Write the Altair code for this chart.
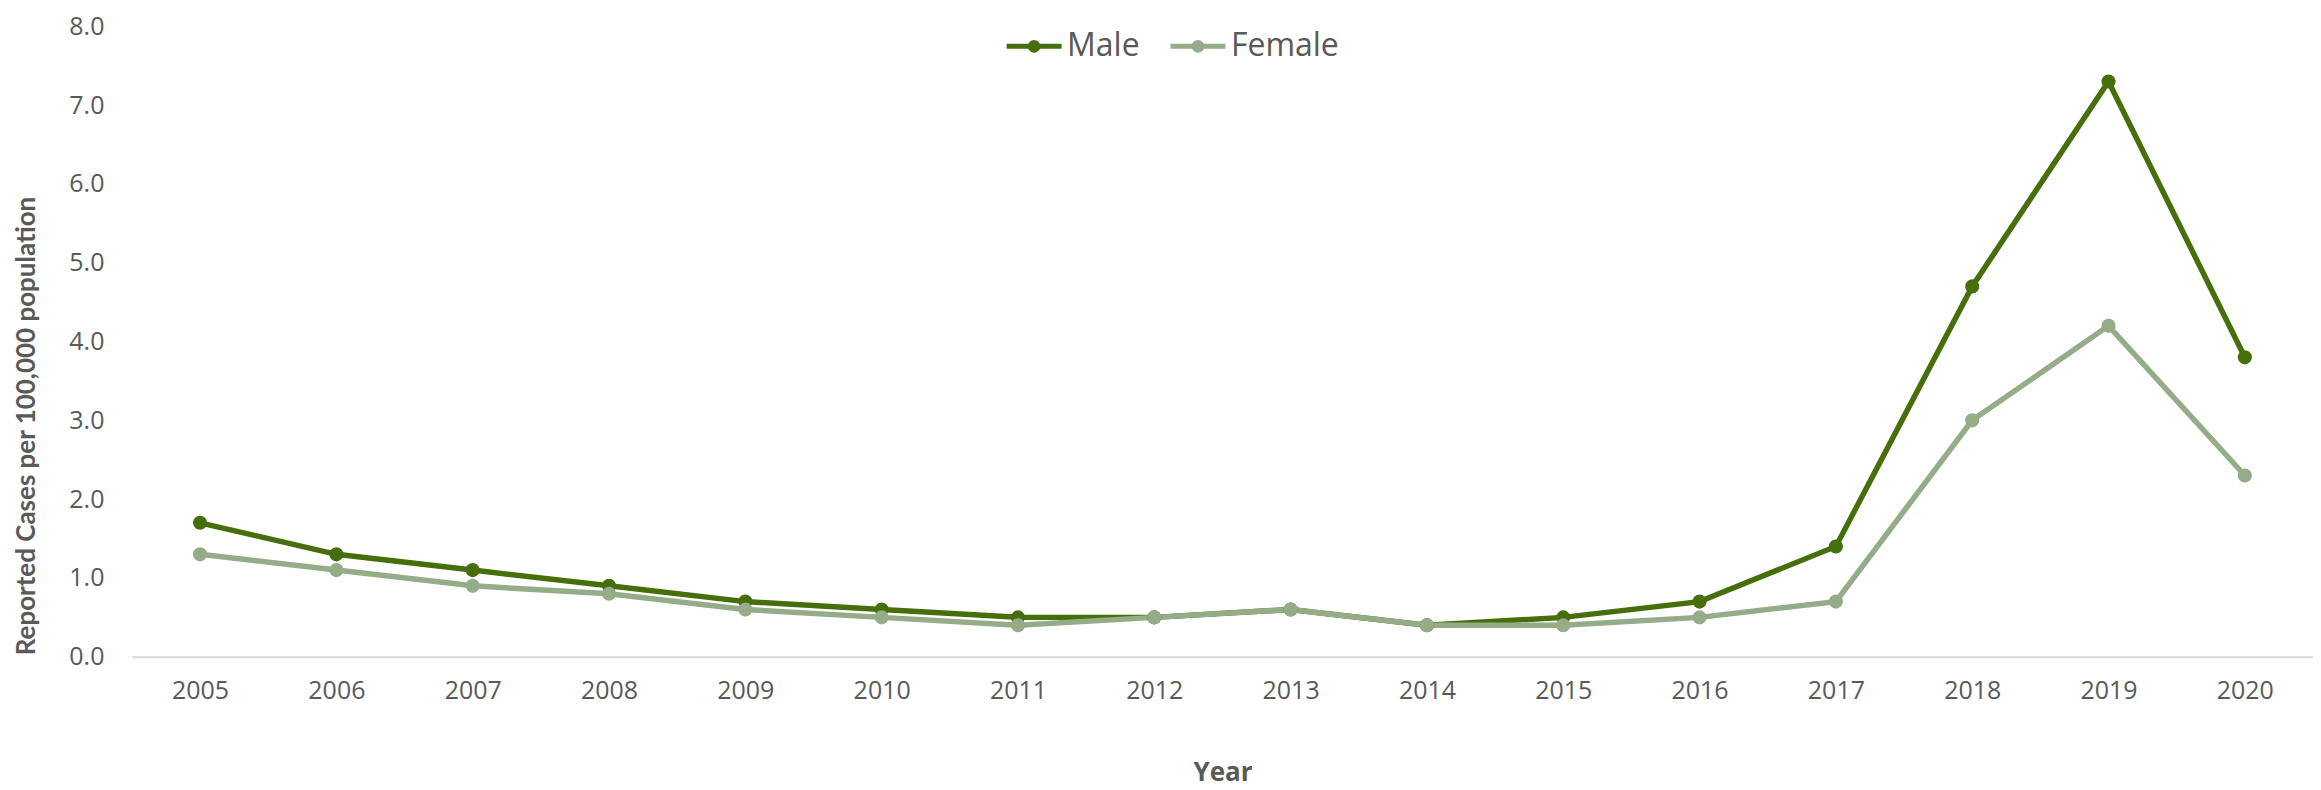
import altair as alt
import pandas as pd

years = [str(y) for y in range(2005, 2021)]
male = [1.7, 1.3, 1.1, 0.9, 0.7, 0.6, 0.5, 0.5, 0.6, 0.4, 0.5, 0.7, 1.4, 4.7, 7.3, 3.8]
female = [1.3, 1.1, 0.9, 0.8, 0.6, 0.5, 0.4, 0.5, 0.6, 0.4, 0.4, 0.5, 0.7, 3.0, 4.2, 2.3]
series = ["Male", "Female"]
colors = ["#466F0C", "#94AC87"]
y_ticks = [0, 1, 2, 3, 4, 5, 6, 7, 8]

rows = []
for s, vals in zip(series, [male, female]):
    for y, v in zip(years, vals):
        rows.append({"Year": y, "Sex": s, "Value": v})
df = pd.DataFrame(rows)

FONT = "Open Sans"
GRAY = "#595959"

legend_symbol = "M-2.5,0L2.5,0M-0.35,0A0.35,0.35,0,1,0,0.35,0A0.35,0.35,0,1,0,-0.35,0"

color = alt.Color(
    "Sex:N",
    scale=alt.Scale(domain=series, range=colors),
    sort=series,
    legend=alt.Legend(
        title=None,
        orient="none",
        direction="horizontal",
        legendX=887,
        legendY=4,
        symbolType=legend_symbol,
        symbolSize=484,
        symbolStrokeWidth=5,
        labelFont=FONT,
        labelFontSize=32,
        labelColor=GRAY,
        labelOffset=17,
        columnPadding=20,
    ),
)

x = alt.X(
    "Year:O",
    sort=years,
    scale=alt.Scale(paddingOuter=0.5, paddingInner=0),
    axis=alt.Axis(
        title="Year",
        labelAngle=0,
        labelFont=FONT,
        labelFontSize=25,
        labelColor=GRAY,
        labelPadding=22,
        ticks=False,
        tickSize=0,
        domainColor="#D9D9D9",
        domainWidth=2,
        grid=False,
        titleFont=FONT,
        titleFontSize=26,
        titleFontWeight="bold",
        titleColor=GRAY,
        titleY=116,
        titleBaseline="middle",
    ),
)

y = alt.Y(
    "Value:Q",
    scale=alt.Scale(domain=[0, 8], nice=False),
    axis=alt.Axis(
        title="Reported Cases per 100,000 population",
        values=y_ticks,
        format=".1f",
        labelFont=FONT,
        labelFontSize=25,
        labelColor=GRAY,
        labelPadding=28,
        ticks=False,
        tickSize=0,
        domain=False,
        grid=False,
        titleFont="Lato",
        titleFontSize=26,
        titleFontWeight="bold",
        titleColor=GRAY,
        titleAngle=270,
        titleAlign="left",
        titleBaseline="middle",
        titleX=-105,
        titleY=629,
    ),
)

chart = (
    alt.Chart(df)
    .mark_line(
        strokeWidth=5.5,
        point=alt.OverlayMarkDef(filled=True, size=200, opacity=1),
    )
    .encode(x=x, y=y, color=color)
    .properties(
        width=2183,
        height=631,
        padding={"left": 124, "top": 18, "right": 0, "bottom": 132},
        autosize=alt.AutoSizeParams(type="none"),
    )
    .configure_view(stroke=None)
)

chart.save("out.html", embed_options={"renderer": "svg", "actions": False})
